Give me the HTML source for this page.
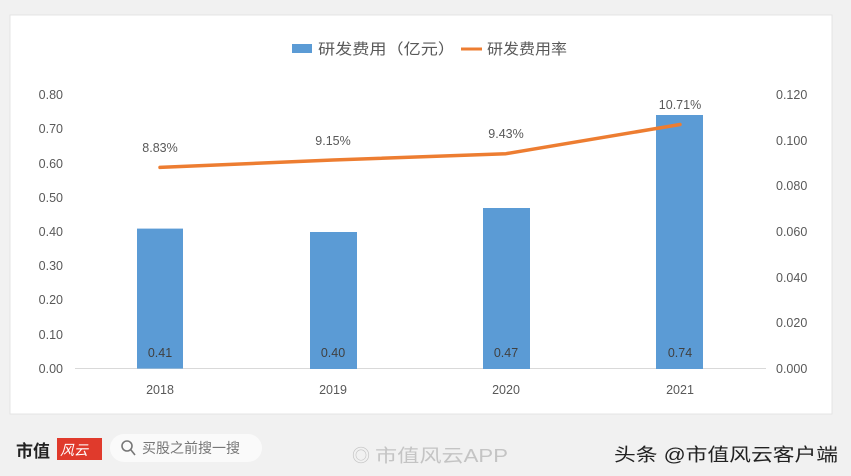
<!DOCTYPE html>
<html><head><meta charset="utf-8"><style>
body{margin:0;width:851px;height:476px;background:#f1f1f1;overflow:hidden;font-family:"Liberation Sans","Noto Sans CJK SC",sans-serif}
</style></head><body>
<svg width="851" height="476" xmlns="http://www.w3.org/2000/svg" style="position:absolute;left:0;top:0">
<rect x="0" y="0" width="851" height="476" fill="#f1f1f1"/>
<rect x="10" y="15" width="822" height="399" fill="#ffffff" stroke="#e4e4e4"/>
<g font-size="15" fill="#595959" font-family="Liberation Sans, Noto Sans CJK SC, sans-serif">
<rect x="292" y="44" width="20" height="9" fill="#5b9bd5"/>
<text x="318" y="54" textLength="137" lengthAdjust="spacingAndGlyphs">研发费用（亿元）</text>
<line x1="461" y1="49" x2="482" y2="49" stroke="#ed7d31" stroke-width="3"/>
<text x="487" y="54" textLength="80" lengthAdjust="spacingAndGlyphs">研发费用率</text>
</g>
<g font-size="12.5" fill="#595959" text-anchor="end">
<text x="63" y="99">0.80</text><text x="63" y="133">0.70</text><text x="63" y="168">0.60</text><text x="63" y="202">0.50</text><text x="63" y="236">0.40</text><text x="63" y="270">0.30</text><text x="63" y="304">0.20</text><text x="63" y="339">0.10</text><text x="63" y="373">0.00</text>
</g>
<g font-size="12.5" fill="#595959">
<text x="776" y="99">0.120</text><text x="776" y="145">0.100</text><text x="776" y="190">0.080</text><text x="776" y="236">0.060</text><text x="776" y="282">0.040</text><text x="776" y="327">0.020</text><text x="776" y="373">0.000</text>
</g>
<line x1="75" y1="368.5" x2="766" y2="368.5" stroke="#d9d9d9"/>
<g fill="#5b9bd5">
<rect x="137" y="228.6" width="46" height="140"/>
<rect x="310" y="232" width="47" height="137"/>
<rect x="483" y="208" width="47" height="161"/>
<rect x="656" y="115" width="47" height="254"/>
</g>
<g font-size="12.5" fill="#404040" text-anchor="middle">
<text x="160" y="357">0.41</text><text x="333" y="357">0.40</text><text x="506" y="357">0.47</text><text x="680" y="357">0.74</text>
</g>
<g font-size="12.5" fill="#595959" text-anchor="middle">
<text x="160" y="394">2018</text><text x="333" y="394">2019</text><text x="506" y="394">2020</text><text x="680" y="394">2021</text>
<text x="160" y="152">8.83%</text><text x="333" y="145">9.15%</text><text x="506" y="138">9.43%</text><text x="680" y="109">10.71%</text>
</g>
<polyline points="160,167.4 333,160 506,153.7 680,124.5" fill="none" stroke="#ed7d31" stroke-width="3.5" stroke-linejoin="round" stroke-linecap="round"/>
<g font-family="Liberation Sans, Noto Sans CJK SC, sans-serif">
<text x="16" y="457" font-size="17" font-weight="bold" fill="#222">市值</text>
<rect x="57" y="438" width="45" height="22" fill="#e03a2c"/>
<text x="60" y="455" font-size="14" fill="#fff" font-style="italic">风云</text>
<rect x="110" y="434" width="152" height="28" rx="14" fill="#fafafa"/>
<circle cx="127" cy="446" r="5" fill="none" stroke="#777" stroke-width="1.6"/>
<line x1="131" y1="450" x2="135" y2="455" stroke="#777" stroke-width="1.6"/>
<text x="142" y="453" font-size="14" fill="#777">买股之前搜一搜</text>
<text x="352" y="462" font-size="18" fill="#c4c4c4">◎</text>
<text x="375" y="462" font-size="18" fill="#c4c4c4" textLength="133" lengthAdjust="spacingAndGlyphs">市值风云APP</text>
<text x="614" y="461" font-size="18" fill="#222" textLength="224" lengthAdjust="spacingAndGlyphs">头条 @市值风云客户端</text>
</g>
</svg>
</body></html>
